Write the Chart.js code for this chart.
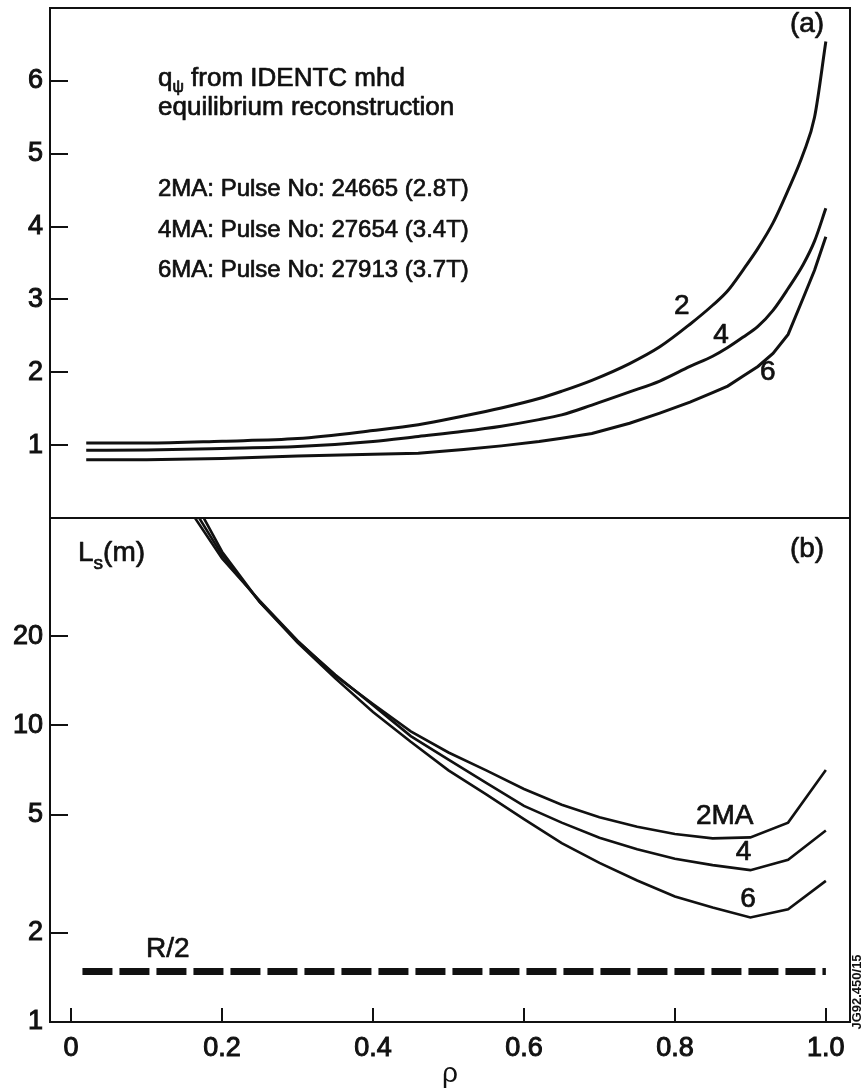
<!DOCTYPE html>
<html>
<head>
<meta charset="utf-8">
<script src="https://cdn.jsdelivr.net/npm/chart.js@4.4.1/dist/chart.umd.min.js"></script>
<style>
  html, body { margin: 0; padding: 0; background: #ffffff; }
  #wrap { position: relative; width: 863px; height: 1091px; overflow: hidden; }
  #wrap canvas { position: absolute; left: 0; }
  #qChart { top: 0; }
  #lsChart { top: 518px; }
</style>
</head>
<body>
<div id="wrap">
  <canvas id="qChart" width="863" height="518"></canvas>
  <canvas id="lsChart" width="863" height="573"></canvas>
</div>
<script>
// ---- panel (a): safety factor profiles q_psi(rho) ----
const qRho = [0.02, 0.1, 0.2, 0.3, 0.4, 0.46, 0.52, 0.57, 0.62, 0.65, 0.69, 0.74, 0.78, 0.82, 0.85, 0.87, 0.89, 0.91, 0.93, 0.95, 0.97, 0.985, 1.0];
const q2MA = [1.03, 1.03, 1.055, 1.09, 1.20, 1.28, 1.40, 1.51, 1.64, 1.74, 1.89, 2.12, 2.35, 2.66, 2.92, 3.12, 3.40, 3.70, 4.05, 4.50, 5.00, 5.50, 6.54];
const q4MA = [0.93, 0.935, 0.955, 0.98, 1.05, 1.12, 1.19, 1.26, 1.35, 1.415, 1.55, 1.73, 1.88, 2.08, 2.22, 2.34, 2.48, 2.63, 2.85, 3.15, 3.48, 3.80, 4.25];
const q6MA = [0.80, 0.80, 0.815, 0.85, 0.875, 0.89, 0.94, 0.99, 1.05, 1.095, 1.16, 1.30, 1.44, 1.59, 1.72, 1.81, 1.945, 2.08, 2.26, 2.52, 3.02, 3.40, 3.86];
const qTicks = [1, 2, 3, 4, 5, 6];

// ---- panel (b): magnetic shear length L_s (m), log axis ----
const lsRho = [0.15, 0.2, 0.25, 0.3, 0.35, 0.4, 0.45, 0.5, 0.55, 0.6, 0.65, 0.7, 0.75, 0.8, 0.85, 0.9, 0.95, 1.0];
const ls2MA = [56.6, 36.5, 26.3, 19.3, 14.7, 11.8, 9.55, 8.1, 7.05, 6.1, 5.4, 4.9, 4.55, 4.3, 4.16, 4.19, 4.7, 7.07];
const ls4MA = [60.3, 37.5, 26.0, 19.2, 14.8, 11.7, 9.2, 7.66, 6.4, 5.35, 4.7, 4.18, 3.82, 3.55, 3.38, 3.25, 3.52, 4.42];
const ls6MA = [66.0, 38.5, 26.0, 19.0, 14.4, 11.1, 8.8, 7.05, 5.85, 4.83, 4.01, 3.44, 3.0, 2.65, 2.43, 2.25, 2.40, 2.99];
const rHalfRho = [0.015, 1.0];
const rHalf = [1.48, 1.48];
const lsTicks = [1, 2, 5, 10, 20];

// ---- shared abscissa ----
const rhoTicks = [0, 0.2, 0.4, 0.6, 0.8, 1.0];
const rhoTickLabels = ['0', '0.2', '0.4', '0.6', '0.8', '1.0'];
const rhoMin = -0.028, rhoMax = 1.032;

// ---- text ----
const infoLines = ['2MA: Pulse No: 24665 (2.8T)', '4MA: Pulse No: 27654 (3.4T)', '6MA: Pulse No: 27913 (3.7T)'];
const qCurveLabels = [{ t: '2', x: 0.809, y: 2.91 }, { t: '4', x: 0.861, y: 2.51 }, { t: '6', x: 0.923, y: 2.00 }];
const lsCurveLabels = [{ t: '2MA', x: 0.866, y: 4.95 }, { t: '4', x: 0.891, y: 3.74 }, { t: '6', x: 0.897, y: 2.60 }, { t: 'R/2', x: 0.128, y: 1.76 }];

const INK = '#111111';
const FONT = "'Liberation Sans', Arial, Helvetica, sans-serif";

const pairs = (xs, ys) => xs.map((x, i) => ({ x: x, y: ys[i] }));

// frame around the plot area plus inward-pointing tick marks
const framePlugin = {
  id: 'frame',
  afterDatasetsDraw(chart, args, opts) {
    const ctx = chart.ctx, a = chart.chartArea;
    ctx.save();
    ctx.strokeStyle = INK;
    ctx.lineWidth = 2;
    ctx.strokeRect(a.left, a.top, a.right - a.left, a.bottom - a.top);
    const ys = chart.scales.y;
    ctx.beginPath();
    ys.ticks.forEach(t => {
      const py = Math.round(ys.getPixelForValue(t.value));
      ctx.moveTo(a.left, py);
      ctx.lineTo(a.left + 18, py);
    });
    if (opts.xTicks) {
      const xs = chart.scales.x;
      xs.ticks.forEach(t => {
        const px = Math.round(xs.getPixelForValue(t.value));
        ctx.moveTo(px, a.bottom);
        ctx.lineTo(px, a.bottom - 14);
      });
    }
    ctx.stroke();
    ctx.restore();
  }
};

// draws a sequence of text runs (allows subscripts) starting at x, on baseline y
function drawRuns(ctx, x, y, runs) {
  runs.forEach(r => {
    ctx.font = r.size + 'px ' + FONT;
    ctx.fillText(r.t, x, y + (r.dy || 0));
    ctx.strokeText(r.t, x, y + (r.dy || 0));
    x += ctx.measureText(r.t).width;
  });
}

function label(ctx, t, x, y) {
  ctx.fillText(t, x, y);
  ctx.strokeText(t, x, y);
}

function inkText(ctx) {
  ctx.fillStyle = INK;
  ctx.strokeStyle = INK;
  ctx.lineWidth = 0.7;
  ctx.lineJoin = 'round';
}

const qTextPlugin = {
  id: 'qText',
  afterDraw(chart) {
    const ctx = chart.ctx, a = chart.chartArea;
    const xs = chart.scales.x, ys = chart.scales.y;
    ctx.save();
    inkText(ctx);
    ctx.textBaseline = 'alphabetic';
    ctx.textAlign = 'left';
    const tx = a.left + 108;
    drawRuns(ctx, tx, a.top + 78, [
      { t: 'q', size: 26 },
      { t: 'ψ', size: 16, dy: 6 },
      { t: ' from IDENTC mhd', size: 26 }
    ]);
    drawRuns(ctx, tx, a.top + 107, [{ t: 'equilibrium reconstruction', size: 26 }]);
    infoLines.forEach((s, i) => drawRuns(ctx, tx, a.top + 188 + i * 40.5, [{ t: s, size: 24 }]));
    // panel tag
    ctx.font = '28px ' + FONT;
    ctx.textAlign = 'center';
    ctx.textBaseline = 'middle';
    label(ctx, '(a)', a.right - 43, a.top + 16);
    // curve labels
    qCurveLabels.forEach(l => label(ctx, l.t, xs.getPixelForValue(l.x), ys.getPixelForValue(l.y)));
    ctx.restore();
  }
};

const lsTextPlugin = {
  id: 'lsText',
  afterDraw(chart) {
    const ctx = chart.ctx, a = chart.chartArea;
    const xs = chart.scales.x, ys = chart.scales.y;
    ctx.save();
    inkText(ctx);
    ctx.textBaseline = 'alphabetic';
    ctx.textAlign = 'left';
    drawRuns(ctx, a.left + 28, a.top + 43, [
      { t: 'L', size: 28 },
      { t: 's', size: 19, dy: 8 },
      { t: '(m)', size: 28 }
    ]);
    ctx.font = '28px ' + FONT;
    ctx.textAlign = 'center';
    ctx.textBaseline = 'middle';
    label(ctx, '(b)', a.right - 43, a.top + 31);
    lsCurveLabels.forEach(l => label(ctx, l.t, xs.getPixelForValue(l.x), ys.getPixelForValue(l.y)));
    // figure reference, rotated along the right edge
    ctx.save();
    ctx.translate(a.right + 7, a.bottom - 30);
    ctx.rotate(-Math.PI / 2);
    ctx.font = 'bold 13px ' + FONT;
    ctx.fillText('JG92.450/15', 0, 0);
    ctx.restore();
    ctx.restore();
  }
};

const curve = (data, w, smooth) => ({
  data: data,
  borderColor: INK,
  borderWidth: w,
  pointRadius: 0,
  tension: 0,
  cubicInterpolationMode: smooth ? 'monotone' : 'default',
  fill: false,
  clip: 0
});

const tickFont = { size: 27, family: FONT };
const tickStyle = { font: tickFont, color: INK, textStrokeColor: INK, textStrokeWidth: 1 };

// fixed axis boxes, no extra label overhang padding
const fixY = s => { s.width = 50; s.paddingTop = 0; s.paddingBottom = 0; };
const fixX = s => { s.height = 69; s.paddingLeft = 0; s.paddingRight = 0; };

new Chart(document.getElementById('qChart'), {
  type: 'line',
  data: {
    datasets: [
      Object.assign(curve(pairs(qRho, q2MA), 3, true), { label: '2MA' }),
      Object.assign(curve(pairs(qRho, q4MA), 3, true), { label: '4MA' }),
      Object.assign(curve(pairs(qRho, q6MA), 3, false), { label: '6MA' })
    ]
  },
  options: {
    responsive: false,
    animation: false,
    devicePixelRatio: 1,
    layout: { padding: { left: 0, right: 13, top: 8, bottom: 0 } },
    plugins: { legend: { display: false }, tooltip: { enabled: false }, frame: { xTicks: false } },
    scales: {
      x: { type: 'linear', min: rhoMin, max: rhoMax, display: false },
      y: {
        type: 'linear', min: 0, max: 7,
        grid: { display: false, drawTicks: false },
        border: { display: false },
        afterBuildTicks: s => { s.ticks = qTicks.map(v => ({ value: v })); },
        afterFit: fixY,
        ticks: Object.assign({ padding: 7, callback: v => String(v) }, tickStyle)
      }
    }
  },
  plugins: [framePlugin, qTextPlugin]
});

new Chart(document.getElementById('lsChart'), {
  type: 'line',
  data: {
    datasets: [
      Object.assign(curve(pairs(lsRho, ls2MA), 2.6, false), { label: '2MA' }),
      Object.assign(curve(pairs(lsRho, ls4MA), 2.6, false), { label: '4MA' }),
      Object.assign(curve(pairs(lsRho, ls6MA), 2.6, false), { label: '6MA' }),
      Object.assign(curve(pairs(rHalfRho, rHalf), 7, false), { label: 'R/2', borderDash: [30, 7], borderCapStyle: 'butt' })
    ]
  },
  options: {
    responsive: false,
    animation: false,
    devicePixelRatio: 1,
    layout: { padding: { left: 0, right: 13, top: 0, bottom: 0 } },
    plugins: { legend: { display: false }, tooltip: { enabled: false }, frame: { xTicks: true } },
    scales: {
      x: {
        type: 'linear', min: rhoMin, max: rhoMax,
        grid: { display: false, drawTicks: false },
        border: { display: false },
        afterBuildTicks: s => { s.ticks = rhoTicks.map(v => ({ value: v })); },
        afterFit: fixX,
        ticks: Object.assign({ padding: 10, maxRotation: 0, autoSkip: false, callback: (v, i) => rhoTickLabels[i] }, tickStyle),
        title: { display: true, text: 'ρ', color: INK, font: { size: 28, family: FONT }, padding: { top: 0, bottom: 0 } }
      },
      y: {
        type: 'logarithmic', min: 1, max: 50,
        grid: { display: false, drawTicks: false },
        border: { display: false },
        afterBuildTicks: s => { s.ticks = lsTicks.map(v => ({ value: v })); },
        afterFit: fixY,
        ticks: Object.assign({ padding: 7, callback: v => String(v) }, tickStyle)
      }
    }
  },
  plugins: [framePlugin, lsTextPlugin]
});
</script>
</body>
</html>
